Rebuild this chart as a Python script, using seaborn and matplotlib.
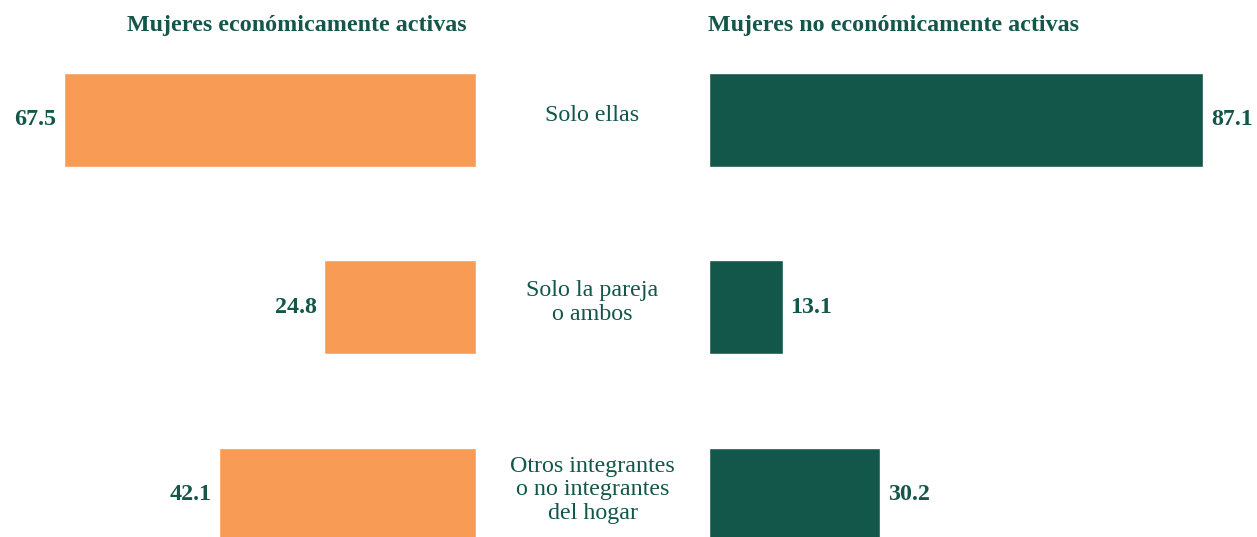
import matplotlib
matplotlib.use("Agg")
import matplotlib.pyplot as plt
import matplotlib.transforms as mtransforms
import seaborn as sns
import pandas as pd

# Data
categorias = ["Solo ellas", "Solo la pareja\no ambos", "Otros integrantes\no no integrantes\ndel hogar"]
activas = [67.5, 24.8, 42.1]
no_activas = [87.1, 13.1, 30.2]
titulos = ["Mujeres económicamente activas", "Mujeres no económicamente activas"]

naranja = "#F89C55"
verde = "#13574A"

sns.set_style("white")
plt.rcParams["font.family"] = ["Liberation Serif", "DejaVu Serif"]

W, H = 1257, 537
fig = plt.figure(figsize=(W / 100, H / 100), dpi=100)

def px_axes(x0, y0, x1, y1):
    # pixel box (top-left origin) -> figure fraction axes
    return fig.add_axes([x0 / W, 1 - y1 / H, (x1 - x0) / W, (y1 - y0) / H])

ax_l = px_axes(0, 26, 476, 537)
ax_r = px_axes(708.5, 26, 1257, 537)

df = pd.DataFrame({"cat": categorias, "activas": activas, "no_activas": no_activas})

sns.barplot(data=df, x="activas", y="cat", ax=ax_l, color=naranja, width=0.5, saturation=1)
sns.barplot(data=df, x="no_activas", y="cat", ax=ax_r, color=verde, width=0.5, saturation=1)

ax_l.set_xlim(476 / 6.11, 0)
ax_r.set_xlim(0, 548.5 / 5.68)

fs = 17.3
for ax in (ax_l, ax_r):
    ax.set_ylim(2.227, -0.5)
    ax.set_xlabel("")
    ax.set_ylabel("")
    ax.set_xticks([])
    ax.set_yticks([])
    for s in ax.spines.values():
        s.set_visible(False)
    ax.patch.set_alpha(0)
    ax.bar_label(ax.containers[0], fmt="%.1f", padding=5.5, fontsize=fs,
                 fontweight="bold", color=verde)

# Titles
fig.text(297 / W, 1 - 25 / H, titulos[0], ha="center", va="center",
         fontsize=fs, fontweight="bold", color=verde)
fig.text(893 / W, 1 - 25 / H, titulos[1], ha="center", va="center",
         fontsize=fs, fontweight="bold", color=verde)

# Category labels in the middle
trans = mtransforms.blended_transform_factory(fig.transFigure, ax_l.transData)
for i, cat in enumerate(categorias):
    ax_l.text(592.5 / W, i - 0.025, cat, transform=trans, ha="center", va="center",
              fontsize=fs, color=verde, linespacing=1.17)

fig.savefig("out.png", dpi=100)
